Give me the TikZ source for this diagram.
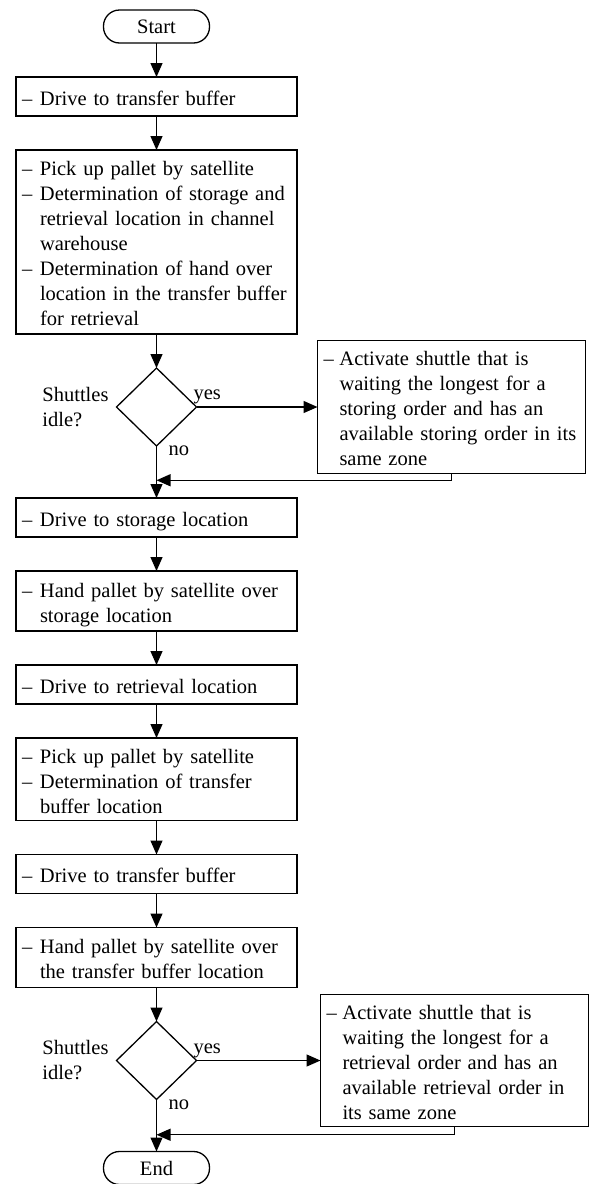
\documentclass[tikz,border=0pt]{standalone}
\usepackage{fontspec}
\setmainfont{Liberation Serif}
\usetikzlibrary{positioning,shapes.geometric,arrows.meta}
\newcommand{\itm}[2][18pt]{\par\hangindent=#1\hangafter=1\noindent\makebox[#1][l]{--}\strut#2\strut\par}
\begin{document}
\begin{tikzpicture}[every node/.style={font=\fontsize{20.5}{25}\selectfont, inner sep=0pt, outer sep=0pt},
          node distance=34pt, line width=1.3pt,
          term/.style={draw, rectangle, rounded corners=16pt, minimum width=106pt, minimum height=33pt},
          box/.style={draw, rectangle, text width=269pt, inner xsep=6pt, inner ysep=0pt, align=left, minimum height=39pt},
          side/.style={draw, rectangle, text width=256pt, inner xsep=6pt, inner ysep=0pt, align=left, minimum height=130pt},
          dec/.style={draw, diamond, minimum width=80pt, minimum height=78pt},
          arr/.style={-{Triangle[length=14pt,width=12pt]}}]
          \useasboundingbox (0,0) rectangle (589pt,-1184pt);
          \node[term] (start) at (156.5pt,-26.5pt) {Start};
          \node[box, below=of start] (drive1) {\itm{Drive to transfer buffer}};
          \node[box, below=of drive1, minimum height=184pt] (pick1) {\itm{Pick up pallet by satellite}\itm{Determination of storage and\newline retrieval location in channel\newline warehouse}\itm{Determination of hand over\newline location in the transfer buffer\newline for retrieval}};
          \node[dec, below=of pick1] (idle1) {};
          \node[align=left, left=8pt of idle1] (ask1) {Shuttles\\idle?};
          \node[anchor=south west] (yes1) at ([xshift=-3pt,yshift=3pt]idle1.east) {yes};
          \node[anchor=north west] (no1) at ([xshift=12pt,yshift=0pt]idle1.south) {no};
          \node[side, right=121pt of idle1] (act1) {\itm[16pt]{Activate shuttle that is\newline waiting the longest for a\newline storing order and has an\newline available storing order in its\newline same zone}};
          \coordinate (back1) at ([yshift=-7pt]act1.south);
          \node[box, below=52pt of idle1] (drive2) {\itm{Drive to storage location}};
          \node[box, below=of drive2, minimum height=60pt] (hand1) {\itm{Hand pallet by satellite over\newline storage location}};
          \node[box, below=of hand1] (drive3) {\itm{Drive to retrieval location}};
          \node[box, below=of drive3, minimum height=82pt] (pick2) {\itm{Pick up pallet by satellite}\itm{Determination of transfer\newline buffer location}};
          \node[box, below=of pick2] (drive4) {\itm{Drive to transfer buffer}};
          \node[box, below=of drive4, minimum height=60pt] (hand2) {\itm{Hand pallet by satellite over\newline the transfer buffer location}};
          \node[dec, below=of hand2] (idle2) {};
          \node[align=left, left=8pt of idle2] (ask2) {Shuttles\\idle?};
          \node[anchor=south west] (yes2) at ([xshift=-3pt,yshift=3pt]idle2.east) {yes};
          \node[anchor=north west] (no2) at ([xshift=12pt,yshift=0pt]idle2.south) {no};
          \node[side, right=124pt of idle2, minimum height=128pt] (act2) {\itm[16pt]{Activate shuttle that is\newline waiting the longest for a\newline retrieval order and has an\newline available retrieval order in\newline its same zone}};
          \coordinate (back2) at ([yshift=-8pt]act2.south);
          \node[term, below=52pt of idle2] (end) {End};
          \draw[arr] (start) -- (drive1);
          \draw[arr] (drive1) -- (pick1);
          \draw[arr] (pick1) -- (idle1);
          \draw[arr] (idle1.east) -- (act1.west);
          \draw[arr] (act1.south) -- (back1) -- (back1 -| idle1.south);
          \draw[arr] (idle1) -- (drive2);
          \draw[arr] (drive2) -- (hand1);
          \draw[arr] (hand1) -- (drive3);
          \draw[arr] (drive3) -- (pick2);
          \draw[arr] (pick2) -- (drive4);
          \draw[arr] (drive4) -- (hand2);
          \draw[arr] (hand2) -- (idle2);
          \draw[arr] (idle2.east) -- (act2.west);
          \draw[arr] (act2.south) -- (back2) -- (back2 -| idle2.south);
          \draw[arr] (idle2) -- (end);
\end{tikzpicture}
\end{document}
